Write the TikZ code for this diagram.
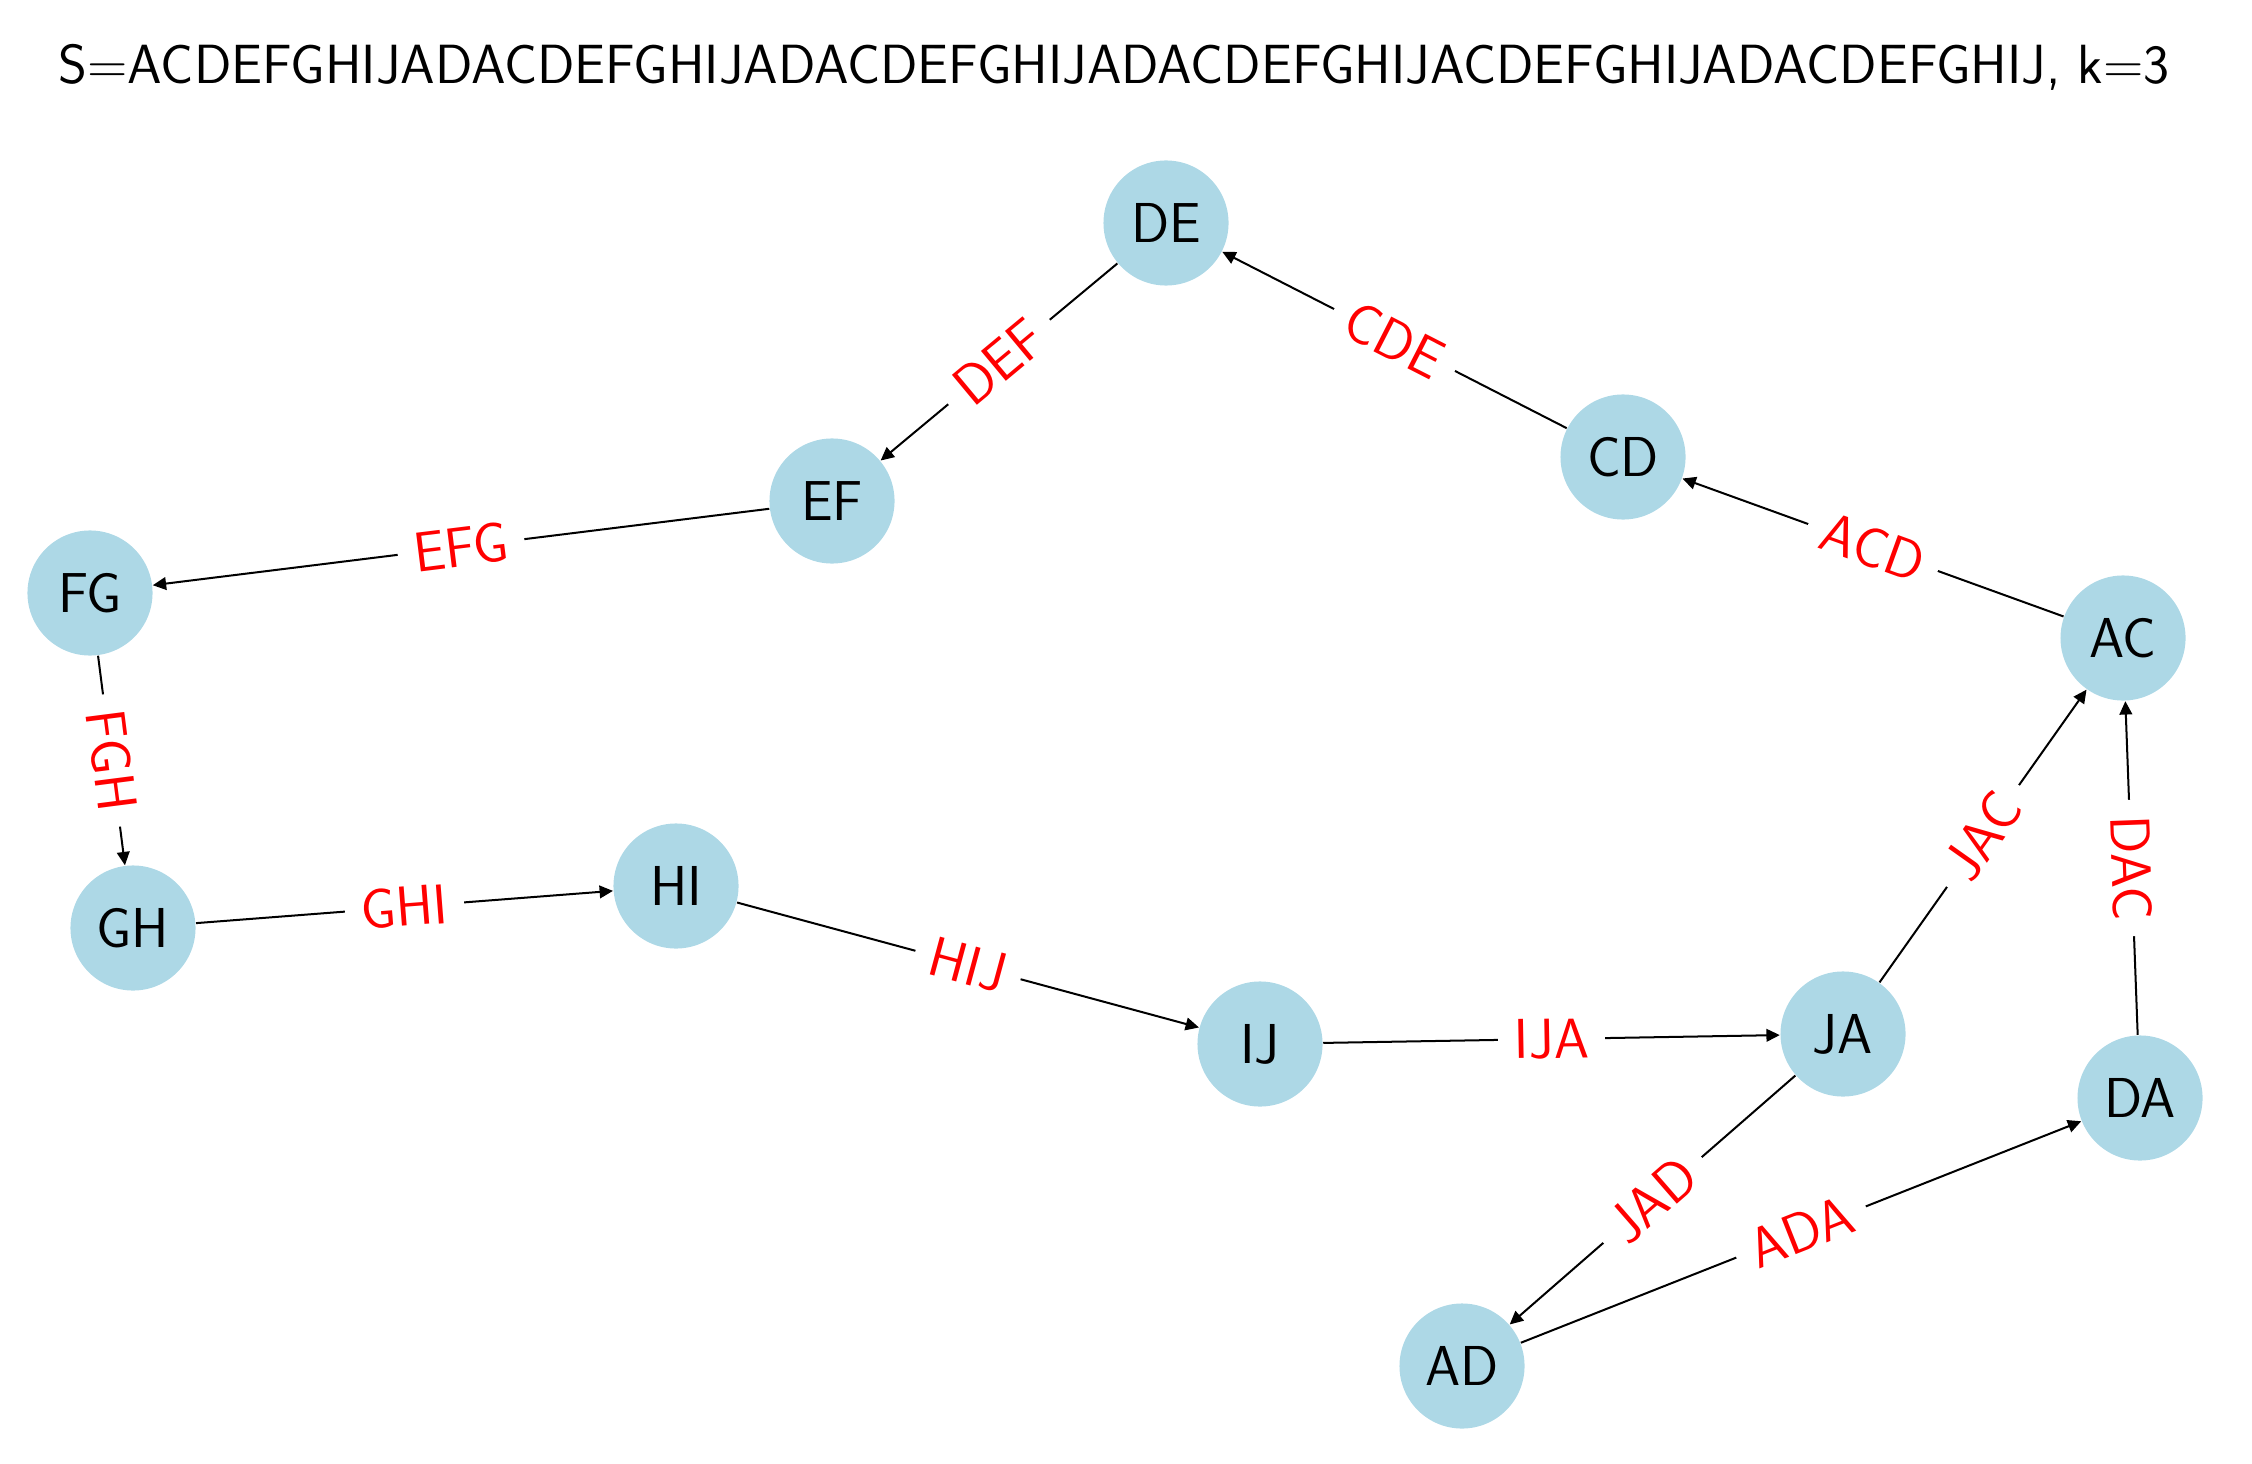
\documentclass[tikz,border=0pt]{standalone}
\usetikzlibrary{arrows.meta}
\definecolor{nodeblue}{RGB}{173,216,230}
\tikzset{
	kmer/.style={circle, fill=nodeblue, minimum size=1.25cm, inner sep=0pt, font=\fontsize{16}{19}\selectfont\sffamily},
	elabel/.style={sloped, fill=white, text=red, inner sep=0.16cm, font=\fontsize{16}{19}\selectfont\sffamily},
	arc/.style={line width=0.57pt, -{Triangle[length=3.8pt, width=3.6pt]}}
}

\begin{document}
\begin{tikzpicture}[x=0.01cm, y=-0.01cm]
	\useasboundingbox (0,0) rectangle (2252,1464);
	\node[font=\fontsize{15.7}{19}\selectfont\sffamily] at (1114,67)(title){S=ACDEFGHIJADACDEFGHIJADACDEFGHIJADACDEFGHIJACDEFGHIJADACDEFGHIJ, k=3};

	\node[kmer] at (1166,223)(DE){DE};
	\node[kmer] at (1623,457)(CD){CD};
	\node[kmer] at (832,501)(EF){EF};
	\node[kmer] at (90,593)(FG){FG};
	\node[kmer] at (2123,638)(AC){AC};
	\node[kmer] at (133,928)(GH){GH};
	\node[kmer] at (676,886)(HI){HI};
	\node[kmer] at (1260,1044)(IJ){IJ};
	\node[kmer] at (1843,1034)(JA){JA};
	\node[kmer] at (2140,1098)(DA){DA};
	\node[kmer] at (1462,1366)(AD){AD};

	\path[arc] (CD) edge node[elabel]{CDE} (DE)
		(DE) edge node[elabel]{DEF} (EF)
		(EF) edge node[elabel]{EFG} (FG)
		(FG) edge node[elabel]{FGH} (GH)
		(GH) edge node[elabel]{GHI} (HI)
		(HI) edge node[elabel]{HIJ} (IJ)
		(IJ) edge node[elabel]{IJA} (JA)
		(JA) edge node[elabel]{JAC} (AC)
		(JA) edge node[elabel]{JAD} (AD)
		(AD) edge node[elabel]{ADA} (DA)
		(DA) edge node[elabel]{DAC} (AC)
		(AC) edge node[elabel]{ACD} (CD);
\end{tikzpicture}
\end{document}
